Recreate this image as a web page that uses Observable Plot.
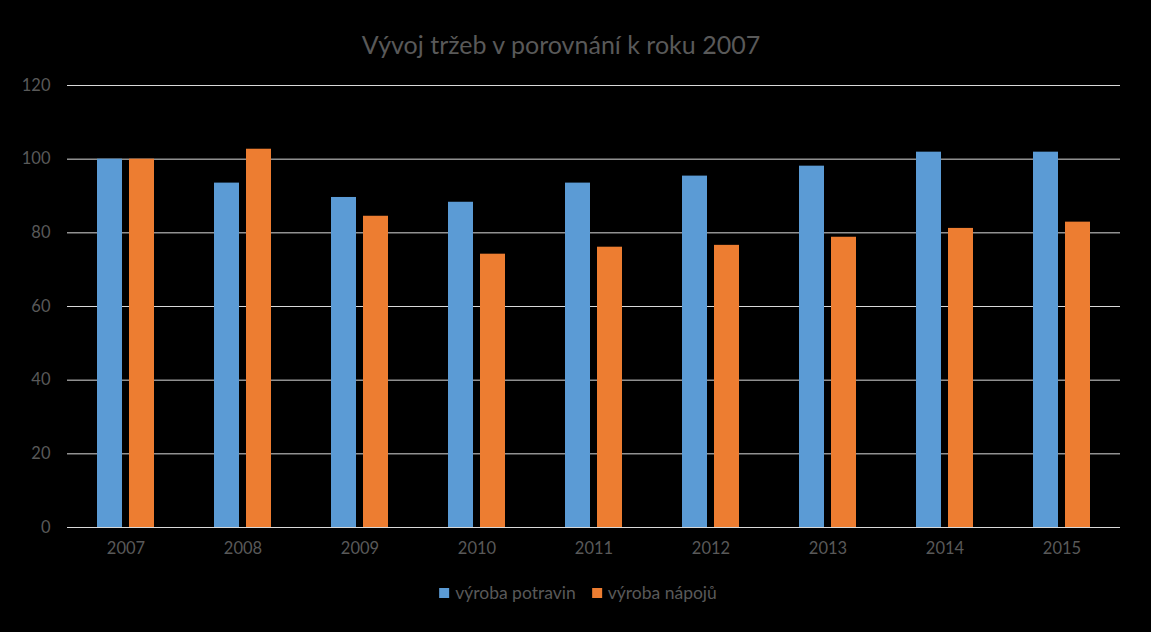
<!DOCTYPE html>
<html>
<head>
<meta charset="utf-8">
<script src="https://cdn.jsdelivr.net/npm/d3@7"></script>
<script src="https://cdn.jsdelivr.net/npm/@observablehq/plot@0.6"></script>
<style>
  html, body { margin: 0; padding: 0; background: #000; width: 1151px; height: 632px; overflow: hidden; }
  #wrap { position: relative; width: 1151px; height: 632px; background: #000; font-family: Lato, "Liberation Sans", sans-serif; }
  #title { position: absolute; top: 27px; left: 561px; transform: translateX(-50%); white-space: nowrap; color: #595959; font-size: 25px; line-height: 34px; }
  #chart { position: absolute; top: 70px; left: 0; }
  #legend { position: absolute; top: 582px; left: 578px; transform: translateX(-50%); display: flex; align-items: center; white-space: nowrap; color: #595959; font-size: 17.5px; line-height: 22px; }
  .item { display: flex; align-items: center; margin: 0 8px; }
  .sw { width: 10px; height: 10px; margin-right: 6px; }
</style>
</head>
<body>
<div id="wrap">
  <div id="title">Vývoj tržeb v porovnání k roku 2007</div>
  <div id="chart"></div>
  <div id="legend"></div>
</div>
<script>
const years = ["2007", "2008", "2009", "2010", "2011", "2012", "2013", "2014", "2015"];
const seriesNames = ["výroba potravin", "výroba nápojů"];
const potraviny = [100, 93.5, 89.6, 88.3, 93.5, 95.4, 98.1, 101.9, 101.9];
const napoje = [100, 102.7, 84.5, 74.2, 76.1, 76.6, 78.8, 81.2, 82.9];
const yTicks = [0, 20, 40, 60, 80, 100, 120];
const colors = ["#5B9BD5", "#ED7D31"];

const data = years.flatMap((yr, i) => [
  {year: yr, series: seriesNames[0], value: potraviny[i]},
  {year: yr, series: seriesNames[1], value: napoje[i]}
]);

const chart = Plot.plot({
  width: 1151,
  height: 500,
  marginTop: 15,
  marginBottom: 43,
  marginLeft: 67,
  marginRight: 31,
  style: {background: "#000", color: "#595959", fontFamily: "Lato, 'Liberation Sans', sans-serif", fontSize: "16px"},
  fx: {domain: years, padding: 0, label: null},
  x: {domain: seriesNames, axis: null, paddingInner: 0.212, paddingOuter: 0.879},
  y: {domain: [0, 120], label: null},
  color: {domain: seriesNames, range: colors},
  marks: [
    Plot.gridY(yTicks, {stroke: "#D9D9D9", strokeOpacity: 1, strokeWidth: 1}),
    Plot.axisY(yTicks, {tickSize: 0, tickPadding: 17, label: null, fill: "#595959", fontSize: 16.5}),
    Plot.barY(data, {fx: "year", x: "series", y: "value", fill: "series"}),
    Plot.ruleY([0], {stroke: "#D9D9D9", strokeWidth: 1}),
    Plot.axisFx({anchor: "bottom", tickSize: 0, tickPadding: 15, label: null, fill: "#595959", fontSize: 16.5})
  ]
});
document.getElementById("chart").appendChild(chart);

const legend = document.getElementById("legend");
seriesNames.forEach((name, i) => {
  const item = document.createElement("div");
  item.className = "item";
  const sw = document.createElement("span");
  sw.className = "sw";
  sw.style.background = colors[i];
  const t = document.createElement("span");
  t.textContent = name;
  item.appendChild(sw);
  item.appendChild(t);
  legend.appendChild(item);
});
</script>
</body>
</html>
